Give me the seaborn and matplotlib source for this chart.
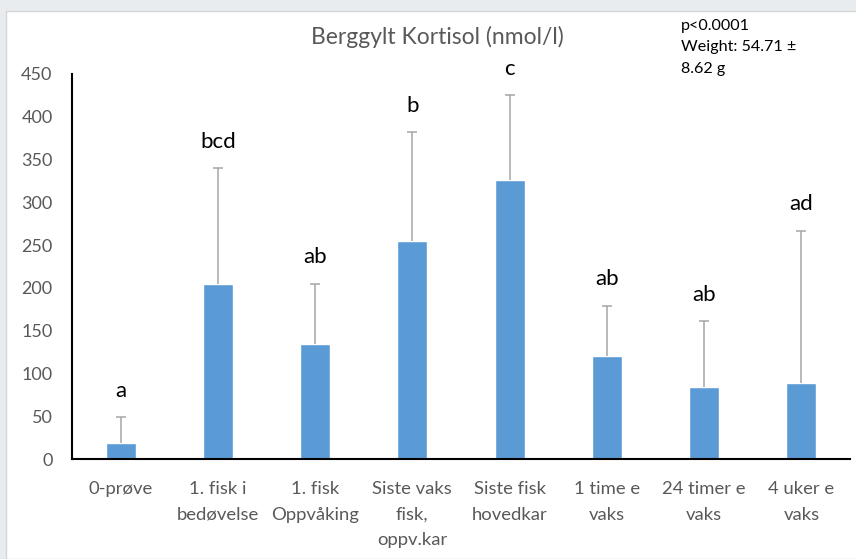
import numpy as np
import pandas as pd
import matplotlib
matplotlib.use("Agg")
import matplotlib.pyplot as plt
import seaborn as sns
from matplotlib.patches import Rectangle

sns.set_style("white")
plt.rcParams["font.family"] = ["Lato", "DejaVu Sans"]

# ── Data ────────────────────────────────────────────────────────────────
categories = ["0-prøve", "1. fisk i\nbedøvelse", "1. fisk\nOppvåking",
              "Siste vaks\nfisk,\noppv.kar", "Siste fisk\nhovedkar",
              "1 time e\nvaks", "24 timer e\nvaks", "4 uker e\nvaks"]
means = [19, 205, 134, 255, 326, 120, 84, 89]
sd = [30, 135, 71, 127, 99, 59, 77, 178]
letters = ["a", "bcd", "ab", "b", "c", "ab", "ab", "ad"]
yticks = [0, 50, 100, 150, 200, 250, 300, 350, 400, 450]

df = pd.DataFrame({"group": categories, "mean": means, "sd": sd})

BAR = "#5B9BD5"
GRAY = "#595959"
ERR = "#A5A5A5"

fig = plt.figure(figsize=(8.56, 5.59), dpi=100)
fig.patch.set_facecolor("#E9ECEF")
# white chart area inside the grey window frame
fig.patches.append(Rectangle((6 / 856, 0), 1, 1 - 11 / 559, transform=fig.transFigure,
                             facecolor="white", edgecolor="#D4D7DA", lw=1, zorder=-10))

ax = fig.add_axes([72 / 856, 1 - 459 / 559, 778 / 856, 385 / 559])
ax.set_facecolor("none")

sns.barplot(data=df, x="group", y="mean", color=BAR, saturation=1,
            width=0.31, ax=ax, errorbar=None)

# upper-only error bars (stem + cap at the top)
pos = np.arange(len(categories))
tops = np.array(means) + np.array(sd)
ax.vlines(pos, means, tops, color=ERR, lw=1.1, zorder=3)
ax.plot(pos, tops, ls="none", marker="_", ms=7, mew=1.1, color=ERR, zorder=3)

for i, (t, lab) in enumerate(zip(tops, letters)):
    ax.annotate(lab, (i, t), xytext=(0, 19), textcoords="offset points",
                ha="center", va="center", fontsize=16, color="black")

ax.set_ylim(0, 450)
ax.set_xlim(-0.5, len(categories) - 0.5)
ax.set_yticks(yticks)
ax.set_xlabel("")
ax.set_ylabel("")
ax.tick_params(axis="both", length=0, colors=GRAY)
ax.tick_params(axis="x", pad=16, labelsize=13.3)
ax.tick_params(axis="y", pad=14, labelsize=13)
for lbl in ax.get_xticklabels():
    lbl.set_linespacing(1.72)
    lbl.set_verticalalignment("top")

for s in ["top", "right"]:
    ax.spines[s].set_visible(False)
for s in ["left", "bottom"]:
    ax.spines[s].set_color("black")
    ax.spines[s].set_linewidth(1.5)

fig.text(437 / 856, 1 - 37 / 559, "Berggylt Kortisol (nmol/l)", ha="center",
         va="center", fontsize=16.5, color=GRAY)
fig.text(681 / 856, 1 - 19 / 559, "p<0.0001\nWeight: 54.71 ±\n8.62 g",
         ha="left", va="top", fontsize=11.6, color="black", linespacing=1.68)

fig.savefig("out.png", dpi=100)
